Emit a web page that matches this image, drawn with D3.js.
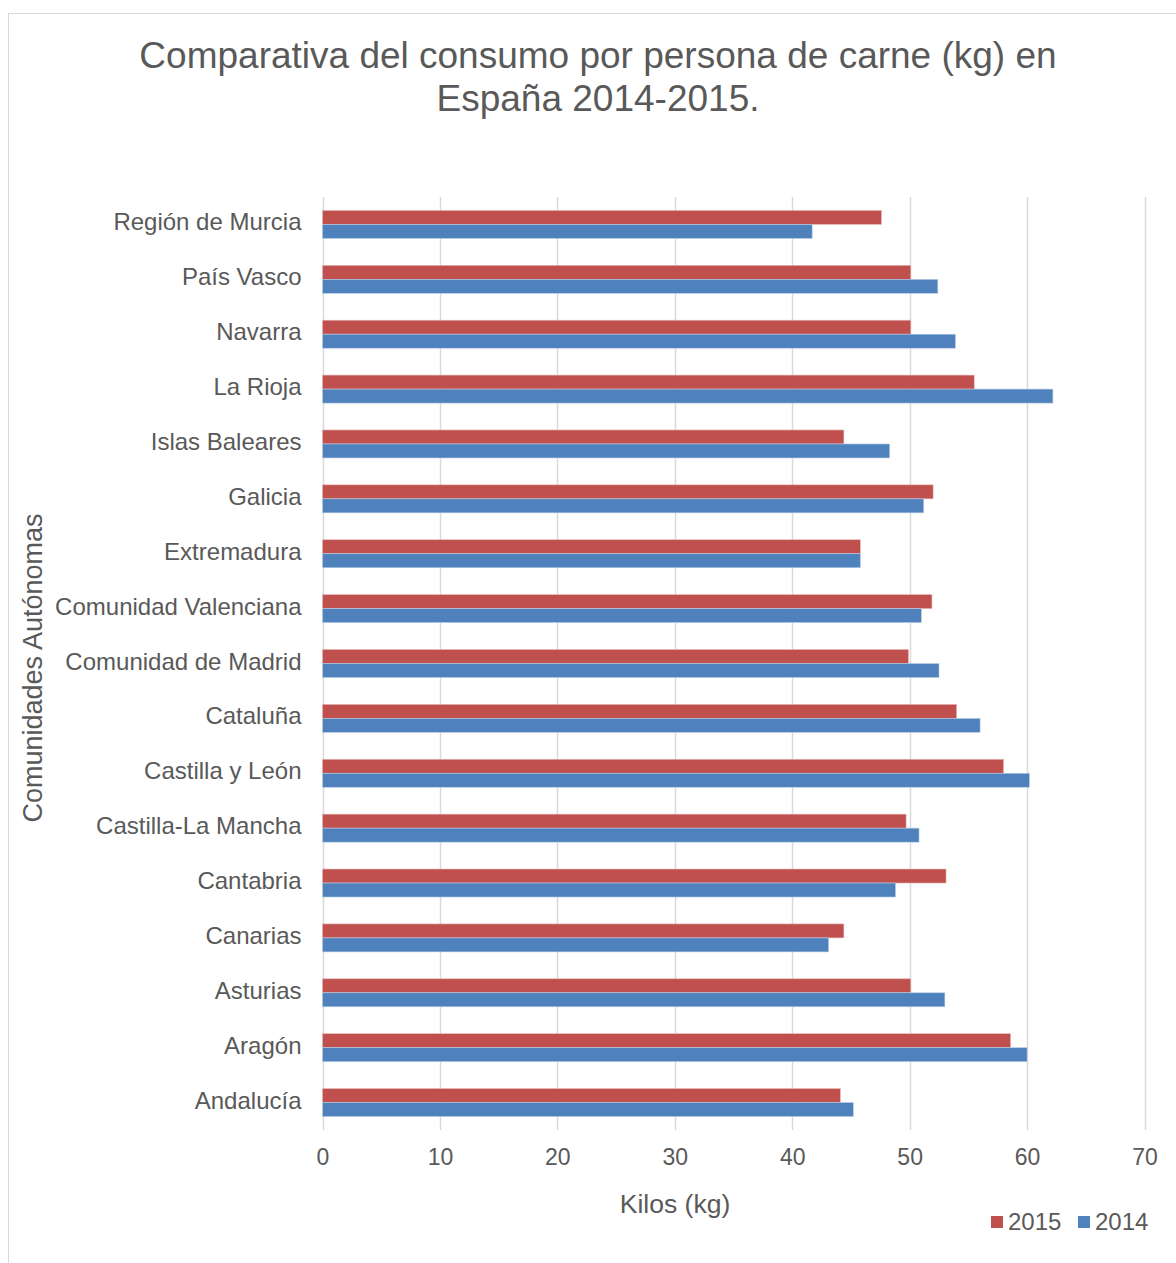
<!DOCTYPE html>
<html><head><meta charset="utf-8">
<script src="https://cdn.jsdelivr.net/npm/d3@7"></script>
<style>body{margin:0;background:#fff;} svg{display:block;font-family:"Liberation Sans",Arial,sans-serif;}</style>
</head><body>
<script>
const categories = ["Región de Murcia","País Vasco","Navarra","La Rioja","Islas Baleares","Galicia","Extremadura","Comunidad Valenciana","Comunidad de Madrid","Cataluña","Castilla y León","Castilla-La Mancha","Cantabria","Canarias","Asturias","Aragón","Andalucía"];
const values2015 = [47.6,50.1,50.1,55.5,44.4,52.0,45.8,51.9,49.9,54.0,58.0,49.7,53.1,44.4,50.1,58.6,44.1];
const values2014 = [41.7,52.4,53.9,62.2,48.3,51.2,45.8,51.0,52.5,56.0,60.2,50.8,48.8,43.1,53.0,60.0,45.2];
const xTicks = [0,10,20,30,40,50,60,70];
const seriesNames = ["2015","2014"];
const seriesColors = ["#C0504D","#4F81BD"];

const W = 1176, H = 1263;
const svg = d3.select("body").append("svg").attr("width", W).attr("height", H);
svg.append("rect").attr("width", W).attr("height", H).attr("fill", "#fff");
svg.append("rect").attr("x", 8.5).attr("y", 13.5).attr("width", 1300).attr("height", 1400)
  .attr("fill", "none").attr("stroke", "#D9D9D9").attr("stroke-width", 1);

const title = svg.append("text").attr("text-anchor", "middle").attr("fill", "#595959").attr("font-size", 37);
title.append("tspan").attr("x", 598).attr("y", 68).text("Comparativa del consumo por persona de carne (kg) en");
title.append("tspan").attr("x", 598).attr("y", 111).text("España 2014-2015.");

const x = d3.scaleLinear().domain([0, 70]).range([322.5, 1144.5]);
const y = d3.scaleBand().domain(categories).range([197, 1130]);

// gridlines
svg.append("g").selectAll("line").data(xTicks).join("line")
  .attr("x1", d => Math.round(x(d)) + 0.5).attr("x2", d => Math.round(x(d)) + 0.5)
  .attr("y1", 197).attr("y2", 1130).attr("stroke", "#D9D9D9").attr("stroke-width", 1.5);

const barH = 14;
const groups = svg.append("g").selectAll("g").data(categories).join("g")
  .attr("transform", d => `translate(0,${y(d) + y.bandwidth()/2 - barH})`);
[values2015, values2014].forEach((vals, si) => {
  groups.append("rect")
    .attr("x", x(0))
    .attr("y", si * barH)
    .attr("width", (d, i) => x(vals[i]) - x(0))
    .attr("height", barH)
    .attr("fill", seriesColors[si])
    .attr("stroke", si === 0 ? "#E6B9B8" : "#B9CDE5").attr("stroke-width", 0.6);
});

// y axis labels
const yAxis = d3.axisLeft(y).tickSize(0).tickPadding(21);
const gy = svg.append("g").attr("transform", `translate(${x(0)},0)`).call(yAxis);
gy.select(".domain").remove();
gy.selectAll("text").attr("font-size", 24).attr("fill", "#595959").attr("font-family", "Liberation Sans, Arial, sans-serif").attr("dy", "0.25em");

// x axis labels
const xAxis = d3.axisBottom(x).tickValues(xTicks).tickSize(0).tickPadding(19);
const gx = svg.append("g").attr("transform", `translate(0,1130)`).call(xAxis);
gx.select(".domain").remove();
gx.selectAll("text").attr("font-size", 23).attr("fill", "#595959").attr("font-family", "Liberation Sans, Arial, sans-serif");

svg.append("text").attr("x", 675).attr("y", 1213).attr("text-anchor", "middle")
  .attr("font-size", 26.5).attr("fill", "#595959").text("Kilos (kg)");
svg.append("text").attr("transform", "translate(42,668) rotate(-90)").attr("text-anchor", "middle")
  .attr("font-size", 27).attr("fill", "#595959").text("Comunidades Autónomas");

// legend
const legX = [991, 1078];
seriesNames.forEach((n, i) => {
  svg.append("rect").attr("x", legX[i]).attr("y", 1216).attr("width", 12).attr("height", 12).attr("fill", seriesColors[i]);
  svg.append("text").attr("x", legX[i] + 17).attr("y", 1230).attr("font-size", 24).attr("fill", "#595959").text(n);
});
</script>
</body></html>
